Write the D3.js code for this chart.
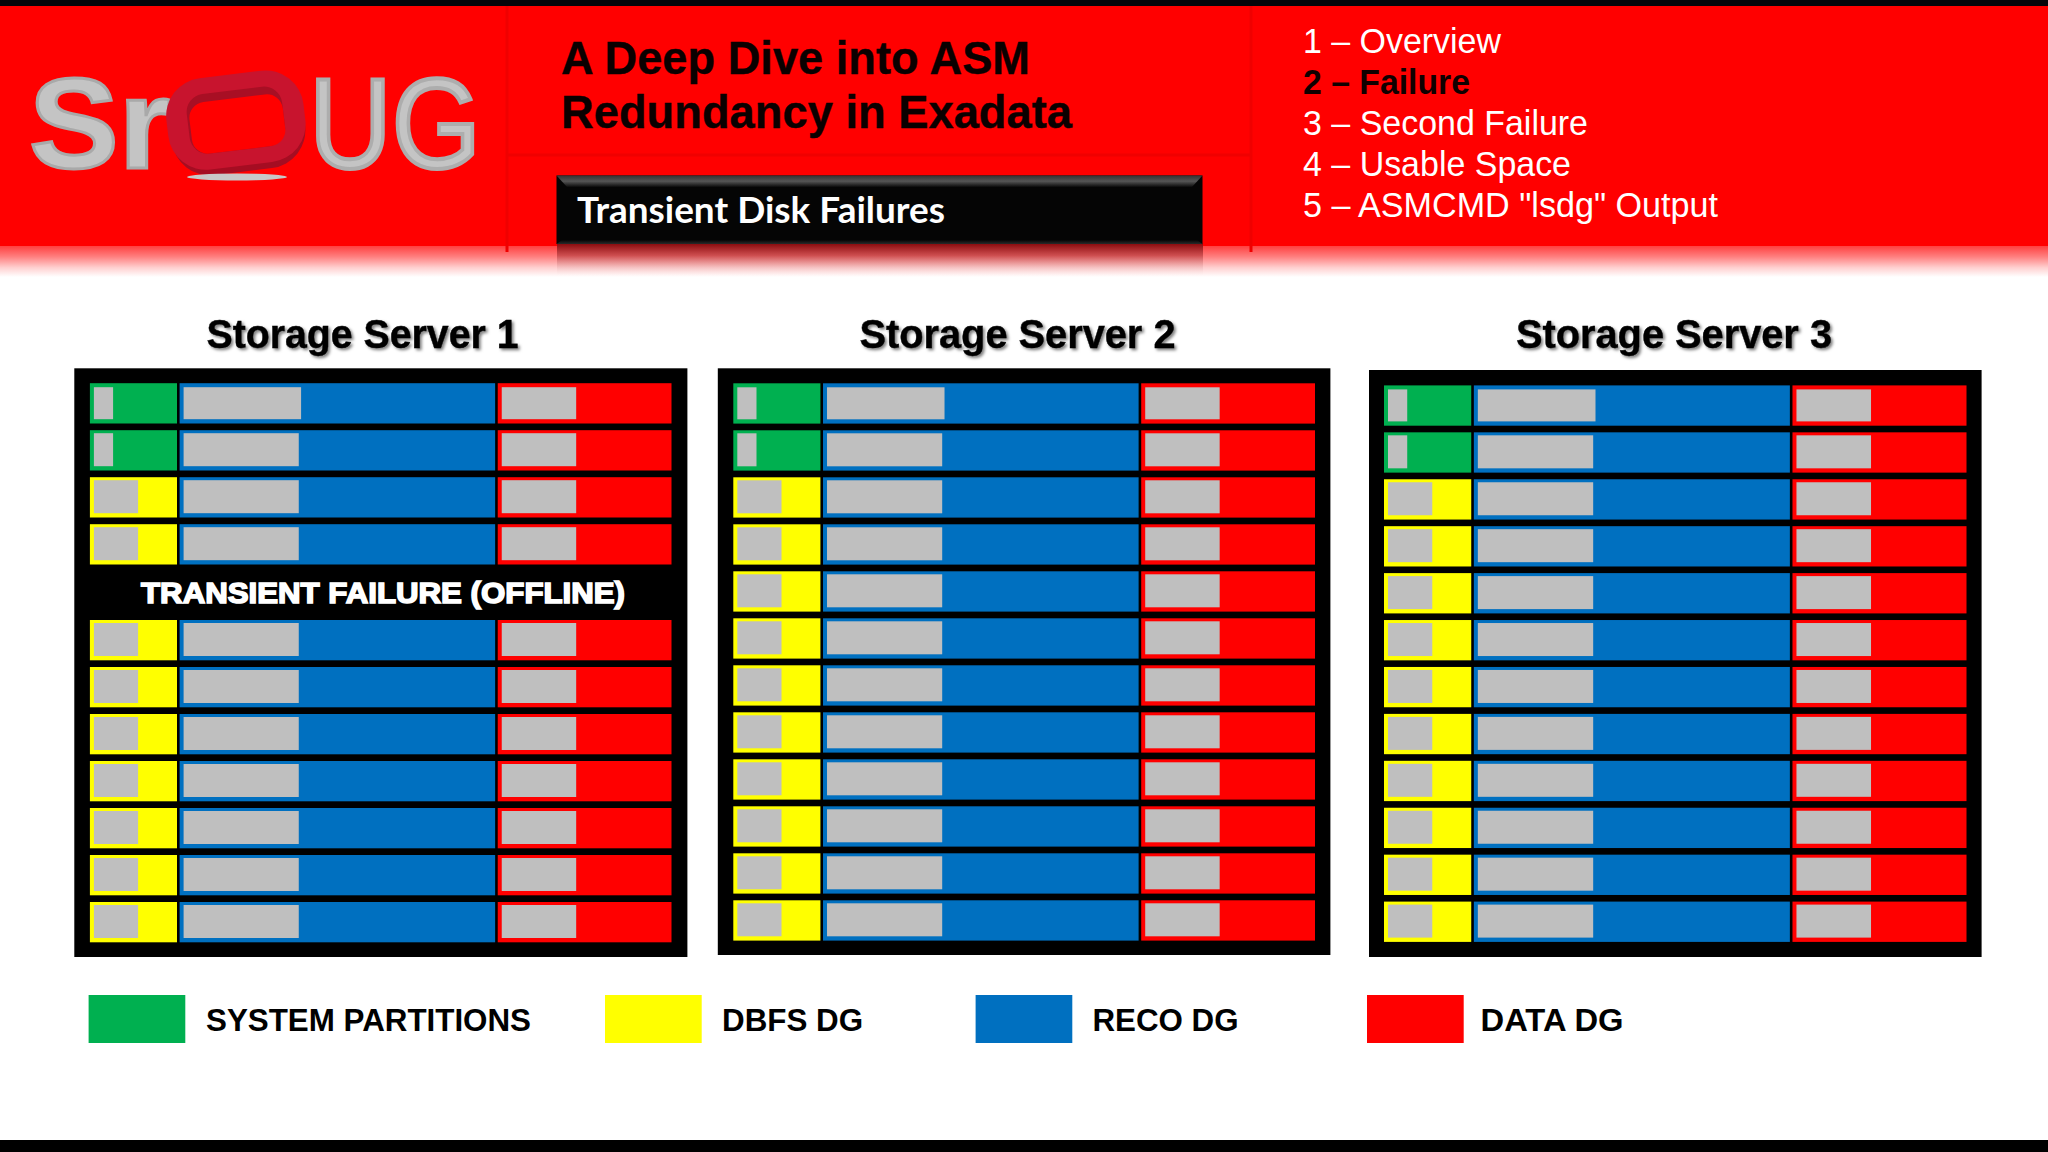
<!DOCTYPE html>
<html>
<head>
<meta charset="utf-8">
<script src="https://cdn.jsdelivr.net/npm/d3@7"></script>
<style>
html,body{margin:0;padding:0;background:#fff;}
svg{display:block;}
text{font-family:"Liberation Sans",Arial,sans-serif;}
</style>
</head>
<body>
<svg id="chart" width="2048" height="1152"></svg>
<script>
// ---------- data ----------
const servers = ["Storage Server 1", "Storage Server 2", "Storage Server 3"];
const rowGroups = ["SYSTEM","SYSTEM","DBFS","DBFS","DBFS","DBFS","DBFS","DBFS","DBFS","DBFS","DBFS","DBFS"];
const failedRow = [4, null, null];
const failedLabel = "TRANSIENT FAILURE (OFFLINE)";
const systemShare = 15.2;
const recoShare = 54.7;
const dataShare = 30.1;
const systemUsed = 3.3;
const dbfsUsed = 7.6;
const recoUsedFirstRow = 20.2;
const recoUsedOtherRows = 19.8;
const dataUsed = 12.8;
const legendLabels = ["SYSTEM PARTITIONS", "DBFS DG", "RECO DG", "DATA DG"];
const navItems = ["1 – Overview", "2 – Failure", "3 – Second Failure", "4 – Usable Space", "5 – ASMCMD \"lsdg\" Output"];
const navActive = 1;
const titleLines = ["A Deep Dive into ASM", "Redundancy in Exadata"];
const sectionLabel = "Transient Disk Failures";

// ---------- layout ----------
const colors = {SYSTEM:"#00b050", DBFS:"#ffff00", RECO:"#0070c0", DATA:"#ff0000", used:"#bfbfbf"};
const legendColors = [colors.SYSTEM, colors.DBFS, colors.RECO, colors.DATA];
const svg = d3.select("#chart");
const defs = svg.append("defs");

function grad(id, stops){
  const g = defs.append("linearGradient").attr("id",id).attr("x1",0).attr("y1",0).attr("x2",0).attr("y2",1);
  stops.forEach(s=>g.append("stop").attr("offset",s[0]).attr("stop-color",s[1]).attr("stop-opacity",s[2]===undefined?1:s[2]));
}
grad("fade",[[0,"#ff4040"],[0.35,"#ff8080"],[0.7,"#ffd0d0"],[1,"#ffffff"]]);
grad("refl",[[0,"#8a0d10"],[0.35,"#c94a4c",0.9],[1,"#ffffff",0]]);
grad("bevelTop",[[0,"#333"],[0.5,"#555"],[1,"#0a0a0a"]]);
grad("bevelBot",[[0,"#050505"],[1,"#2a2a2a"]]);
const shadow = defs.append("filter").attr("id","ts").attr("x","-5%").attr("y","-20%").attr("width","110%").attr("height","140%");
shadow.append("feDropShadow").attr("dx",2).attr("dy",2).attr("stdDeviation",1.5).attr("flood-color","#000").attr("flood-opacity",0.5);

// page frame
svg.append("rect").attr("width",2048).attr("height",1152).attr("fill","#fff");
svg.append("rect").attr("x",0).attr("y",6).attr("width",2048).attr("height",241).attr("fill","#ff0000");
svg.append("rect").attr("x",0).attr("y",246).attr("width",2048).attr("height",31).attr("fill","url(#fade)");
svg.append("rect").attr("x",0).attr("y",0).attr("width",2048).attr("height",6).attr("fill","#05050a");
svg.append("rect").attr("x",0).attr("y",1140).attr("width",2048).attr("height",12).attr("fill","#000");

// header dividers
const hdr = svg.append("g").attr("stroke","#f00000").attr("stroke-width",3);
hdr.append("line").attr("x1",507).attr("x2",507).attr("y1",6).attr("y2",252);
hdr.append("line").attr("x1",1251).attr("x2",1251).attr("y1",6).attr("y2",252);
hdr.append("line").attr("x1",507).attr("x2",1251).attr("y1",155).attr("y2",155);

// logo
const logo = svg.append("g");
logo.append("text").text("Sr").attr("x",29).attr("y",168).attr("font-size",128).attr("font-weight",700)
  .attr("fill","#c4c4c4").attr("stroke","#a9a9a9").attr("stroke-width",3)
  .attr("textLength",142).attr("lengthAdjust","spacingAndGlyphs");
logo.append("text").text("UG").attr("x",309).attr("y",168).attr("font-size",128).attr("font-weight",400)
  .attr("fill","#c4c4c4").attr("stroke","#adadad").attr("stroke-width",4)
  .attr("textLength",172).attr("lengthAdjust","spacingAndGlyphs");
const ring = logo.append("g").attr("transform","rotate(-7 237 121)");
ring.append("rect").attr("x",170).attr("y",82).attr("width",134).attr("height",90).attr("rx",38).attr("fill","#a50d22");
ring.append("rect").attr("x",167).attr("y",74).attr("width",138).attr("height",92).attr("rx",38).attr("fill","#c8142e");
ring.append("rect").attr("x",188).attr("y",90).attr("width",96).attr("height",60).attr("rx",18).attr("fill","#a80f24");
ring.append("rect").attr("x",190).attr("y",98).attr("width",94).attr("height",52).attr("rx",16).attr("fill","#ff0000");
logo.append("ellipse").attr("cx",237).attr("cy",177).attr("rx",50).attr("ry",3.5).attr("fill","#c8c8c8");

// title
const titleWidths = [469, 511];
svg.append("g").selectAll("text").data(titleLines).join("text")
  .text(d=>d).attr("x",561).attr("y",(d,i)=>74+i*54).attr("font-size",47).attr("font-weight",700)
  .attr("fill","#0a0000").attr("stroke","#0a0000").attr("stroke-width",0.4)
  .attr("textLength",(d,i)=>titleWidths[i]).attr("lengthAdjust","spacingAndGlyphs");

// section label box
svg.append("rect").attr("x",557).attr("y",244).attr("width",646).attr("height",33).attr("fill","url(#refl)");
svg.append("rect").attr("x",556.5).attr("y",175.5).attr("width",646).attr("height",68.5).attr("fill","#050505");
svg.append("path").attr("d","M556.5,175.5H1202.5L1192,187H567Z").attr("fill","url(#bevelTop)");
svg.append("path").attr("d","M556.5,244H1202.5L1197,240H562Z").attr("fill","url(#bevelBot)");
svg.append("text").text(sectionLabel).attr("x",577).attr("y",223).attr("font-size",37).attr("font-weight",700)
  .style("font-family","Lato, 'Open Sans', sans-serif").attr("fill","#fff")
  .attr("textLength",368).attr("lengthAdjust","spacingAndGlyphs");

// navigation
const navWidths = [198, 167, 285, 268, 415];
const navY = d3.scaleLinear().domain([0,4]).range([52.7,216.7]);
svg.append("g").selectAll("text").data(navItems).join("text")
  .text(d=>d).attr("x",1303).attr("y",(d,i)=>navY(i)).attr("font-size",35)
  .attr("font-weight",(d,i)=>i===navActive?700:400)
  .attr("fill",(d,i)=>i===navActive?"#100000":"#fff")
  .attr("textLength",(d,i)=>navWidths[i]).attr("lengthAdjust","spacingAndGlyphs");

// server panels
const layouts = [
  {panel:[74.3,687.4,368.3,957], rowX:89.9, rowW:581.6, yd:[0,3,5,11], yr:[383.2,524.2,620,902], label:[206.5,312]},
  {panel:[717.8,1330.4,368.3,955], rowX:733.3, rowW:581.7, yd:[0,11], yr:[383.3,900.3], label:[859.5,316]},
  {panel:[1369,1981.6,370,957], rowX:1384, rowW:582.5, yd:[0,11], yr:[385.4,901.6], label:[1516,316]}
];
const rowH = 40.3, gap = 1.3;

servers.forEach((name, s) => {
  const L = layouts[s];
  const x = d3.scaleLinear().domain([0,100]).range([L.rowX, L.rowX+L.rowW]);
  const y = d3.scaleLinear().domain(L.yd).range(L.yr);
  const g = svg.append("g");
  g.append("text").text(name).attr("x",L.label[0]).attr("y",348).attr("font-size",41).attr("font-weight",700)
    .attr("fill","#000").attr("stroke","#000").attr("stroke-width",0.4).attr("filter","url(#ts)")
    .attr("textLength",L.label[1]).attr("lengthAdjust","spacingAndGlyphs");
  g.append("rect").attr("x",L.panel[0]).attr("y",L.panel[2])
    .attr("width",L.panel[1]-L.panel[0]).attr("height",L.panel[3]-L.panel[2]).attr("fill","#000");

  const rows = rowGroups.map((group,i)=>({group,i})).filter(r=>r.i!==failedRow[s]);
  const row = g.selectAll("g.row").data(rows).join("g").attr("class","row");
  const segs = r => {
    const c0 = 0, c1 = systemShare, c2 = c1+recoShare, c3 = c2+dataShare;
    return [
      {from:c0,to:c1,color:colors[r.group],used:r.group==="SYSTEM"?systemUsed:dbfsUsed,i:r.i,lead:0},
      {from:c1,to:c2,color:colors.RECO,used:r.i===0?recoUsedFirstRow:recoUsedOtherRows,i:r.i,lead:gap},
      {from:c2,to:c3,color:colors.DATA,used:dataUsed,i:r.i,lead:gap}
    ];
  };
  row.selectAll("rect.cap").data(segs).join("rect").attr("class","cap")
    .attr("x",d=>x(d.from)+d.lead).attr("y",d=>y(d.i))
    .attr("width",d=>x(d.to)-x(d.from)-d.lead-(d.to<100?gap:0)).attr("height",rowH)
    .attr("fill",d=>d.color);
  row.selectAll("rect.used").data(segs).join("rect").attr("class","used")
    .attr("x",d=>x(d.from)+d.lead+4).attr("y",d=>y(d.i)+(d.i===0?4:3))
    .attr("width",d=>x(d.used)-x(0)).attr("height",d=>d.i===0?32:33)
    .attr("fill",colors.used);

  if (failedRow[s] !== null) {
    g.append("text").text(failedLabel).attr("x",141).attr("y",603.3).attr("font-size",30).attr("font-weight",700)
      .attr("fill","#fff").attr("stroke","#fff").attr("stroke-width",1.6)
      .attr("textLength",484).attr("lengthAdjust","spacingAndGlyphs");
  }
});

// legend
const legendX = [88.6, 605, 975.6, 1367];
const legendTextX = [206, 722, 1092.5, 1480.5];
const legendTextW = [325, 141, 146, 143];
const leg = svg.append("g").selectAll("g").data(legendLabels).join("g");
leg.append("rect").attr("x",(d,i)=>legendX[i]).attr("y",995).attr("width",96.7).attr("height",48).attr("fill",(d,i)=>legendColors[i]);
leg.append("text").text(d=>d).attr("x",(d,i)=>legendTextX[i]).attr("y",1030.5).attr("font-size",32).attr("font-weight",700)
  .attr("fill","#000").attr("textLength",(d,i)=>legendTextW[i]).attr("lengthAdjust","spacingAndGlyphs");
</script>
</body>
</html>
